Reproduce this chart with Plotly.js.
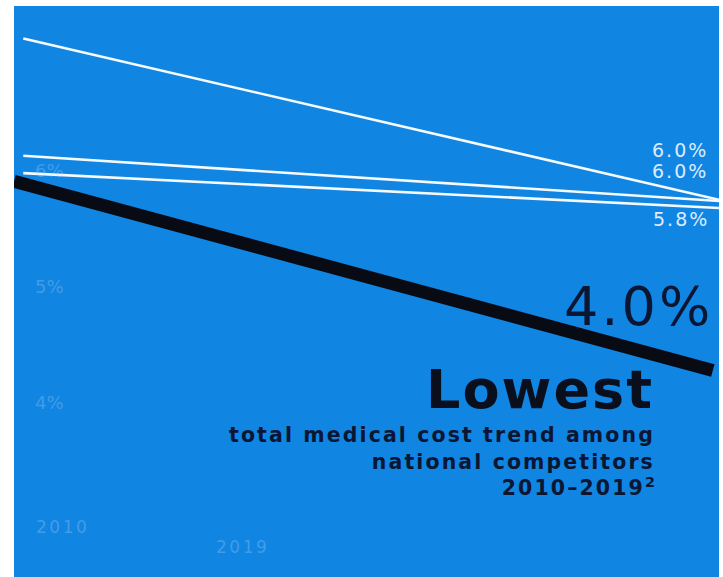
<!DOCTYPE html>
<html>
<head>
<meta charset="utf-8">
<script src="https://cdn.plot.ly/plotly-3.0.1.min.js"></script>
<style>html,body{margin:0;padding:0;background:#fff;}#chart{width:723px;height:577px;}</style>
</head>
<body>
<div id="chart"></div>
<script>
// Data (percent values)
const years = [2010, 2019];
const competitorA = [7.14, 5.75];
const competitorB = [6.13, 5.74];
const competitorC = [5.98, 5.68];
const blackYears = [2009.88, 2018.92];
const ourTrend = [5.91, 4.28];

const yTickVals = [4, 5, 6];
const yTickText = ['4%', '5%', '6%'];
const endLabels = ['6.0%', '6.0%', '5.8%'];
const ourLabel = '4.0%';

const BLUE = '#1185e2';
const NAVY = '#0b1633';
const LABEL = '#dcecff';
const FAINT = 'rgba(190,215,245,0.30)';
const FONT = 'DejaVu Sans, Liberation Sans, Arial, sans-serif';

function whiteLine(y, name) {
  return {x: years, y: y, name: name, type: 'scatter', mode: 'lines',
    line: {color: '#f4faff', width: 2.6}, hoverinfo: 'skip'};
}

const traces = [
  whiteLine(competitorA, 'Competitor A'),
  whiteLine(competitorB, 'Competitor B'),
  whiteLine(competitorC, 'Competitor C'),
  {x: blackYears, y: ourTrend, name: 'Ours', type: 'scatter', mode: 'lines',
   line: {color: '#080a14', width: 13}, hoverinfo: 'skip'}
];

function sp(t, ls) { return '<span style="letter-spacing:' + ls + 'px">' + t + '</span>'; }

const annotations = [
  {text: sp(endLabels[0], 2), x: 0.987, y: 0.748, xanchor: 'right', yanchor: 'middle', font: {size: 19, color: LABEL, family: FONT}},
  {text: sp(endLabels[1], 2), x: 0.987, y: 0.711, xanchor: 'right', yanchor: 'middle', font: {size: 19, color: LABEL, family: FONT}},
  {text: sp(endLabels[2], 2), x: 0.989, y: 0.627, xanchor: 'right', yanchor: 'middle', font: {size: 19, color: LABEL, family: FONT}},
  {text: sp(ourLabel, 3), x: 0.994, y: 0.473, xanchor: 'right', yanchor: 'middle', font: {size: 54, color: NAVY, family: FONT}},
  {text: '<b>' + sp('Lowest', 2) + '</b>', x: 0.911, y: 0.3275, xanchor: 'right', yanchor: 'middle', font: {size: 54, color: '#0a0f1e', family: FONT}},
  {text: '<b>' + sp('total medical cost trend among', 2.1) + '<br>' + sp('national competitors', 2.1) + '<br>' + sp('2010–2019', 2.1) + '<sup>2</sup></b>',
   x: 0.912, y: 0.203, xanchor: 'right', yanchor: 'middle', align: 'right', font: {size: 20.5, color: NAVY, family: FONT}},
  {text: sp('2010', 2.5), x: (62 - 14) / 705, y: (577 - 527) / 571, xanchor: 'center', yanchor: 'middle', font: {size: 17, color: FAINT, family: FONT}},
  {text: sp('2019', 2.5), x: (242 - 14) / 705, y: (577 - 547) / 571, xanchor: 'center', yanchor: 'middle', font: {size: 17, color: FAINT, family: FONT}}
].map(a => Object.assign({xref: 'paper', yref: 'paper', showarrow: false}, a));

const layout = {
  width: 723, height: 577,
  margin: {l: 14, r: 4, t: 6, b: 0, pad: 0},
  paper_bgcolor: '#ffffff',
  plot_bgcolor: BLUE,
  showlegend: false,
  xaxis: {range: [2009.88, 2019], showgrid: false, zeroline: false, showticklabels: false, showline: false, ticks: ''},
  yaxis: {range: [2.5, 7.42], showgrid: false, zeroline: false, showline: false, ticks: '',
    tickvals: yTickVals, ticktext: yTickText, ticklabelposition: 'inside', ticklabelstandoff: 18,
    tickfont: {size: 18, color: FAINT, family: FONT}},
  annotations: annotations
};

Plotly.newPlot('chart', traces, layout, {displayModeBar: false, staticPlot: true});
</script>
</body>
</html>
